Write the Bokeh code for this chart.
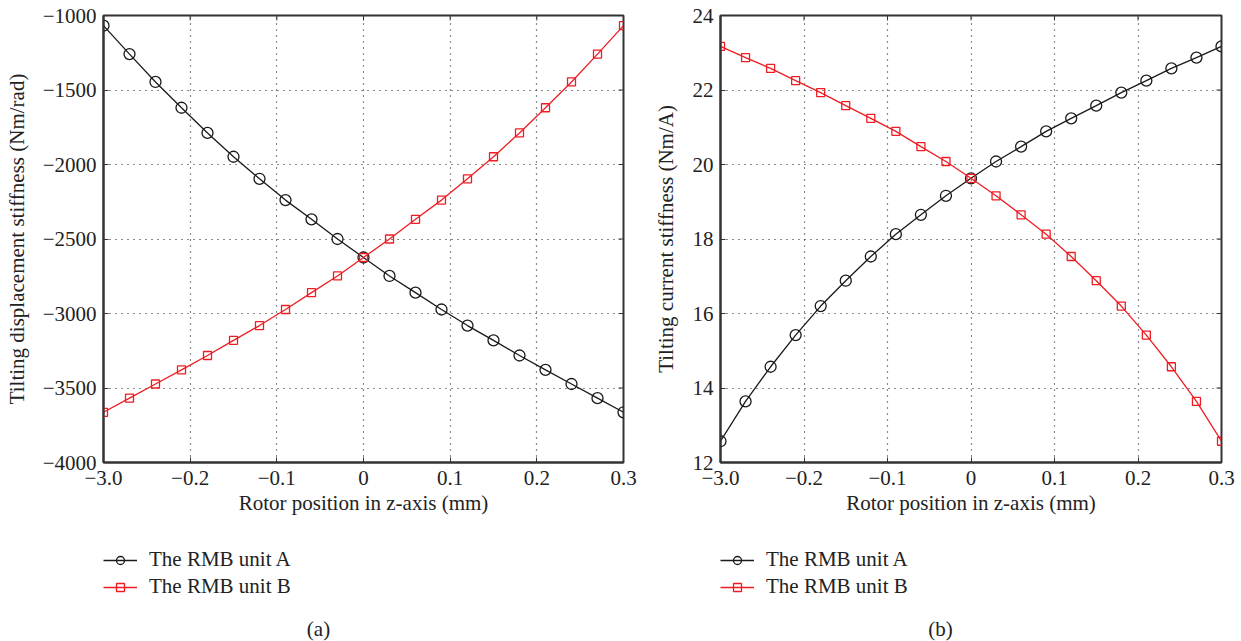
import math
from bokeh.plotting import figure
from bokeh.models import Legend, LegendItem, Label, FixedTicker, Range1d
from bokeh.layouts import row, column
from bokeh.embed import file_html
from bokeh.resources import INLINE

# ---- data ----
z = [-0.30, -0.27, -0.24, -0.21, -0.18, -0.15, -0.12, -0.09, -0.06, -0.03, 0.0,
     0.03, 0.06, 0.09, 0.12, 0.15, 0.18, 0.21, 0.24, 0.27, 0.30]

kd_A = [-1068, -1259, -1446, -1619, -1788, -1948, -2096, -2239, -2368, -2500, -2624,
        -2748, -2860, -2973, -3081, -3180, -3282, -3378, -3473, -3568, -3663]
kd_B = [-3663, -3568, -3473, -3378, -3282, -3180, -3081, -2973, -2860, -2748, -2624,
        -2500, -2368, -2239, -2096, -1948, -1788, -1619, -1446, -1259, -1068]

ki_A = [12.57, 13.64, 14.57, 15.42, 16.20, 16.88, 17.53, 18.13, 18.65, 19.16, 19.63,
        20.08, 20.48, 20.89, 21.24, 21.58, 21.93, 22.25, 22.58, 22.87, 23.17]
ki_B = [23.17, 22.87, 22.58, 22.25, 21.93, 21.58, 21.24, 20.89, 20.48, 20.08, 19.63,
        19.16, 18.65, 18.13, 17.53, 16.88, 16.20, 15.42, 14.57, 13.64, 12.57]

x_ticks = [-0.3, -0.2, -0.1, 0.0, 0.1, 0.2, 0.3]
x_tick_labels = ["\u22123.0", "\u22120.2", "\u22120.1", "0", "0.1", "0.2", "0.3"]

kd_ticks = [-4000, -3500, -3000, -2500, -2000, -1500, -1000]
ki_ticks = [12, 14, 16, 18, 20, 22, 24]

series_names = ["The RMB unit A", "The RMB unit B"]
x_label = "Rotor position in z-axis (mm)"

FONT = "Liberation Serif"
RED = "#ee1d23"
BLACK = "#1a1a1a"
AXIS = "#333333"
TXT = "#222222"
FS = "21px"
TOP_H = 524
BOT_H = 641 - TOP_H


def fmt_y(v):
    return str(int(v)).replace("-", "\u2212")


def style_a(p, xs, ys):
    la = p.line(xs, ys, line_color=BLACK, line_width=1.3)
    sa = p.scatter(xs, ys, marker="circle", size=11, line_color=BLACK,
                   fill_color=None, line_width=1.3)
    return la, sa


def style_b(p, xs, ys):
    lb = p.line(xs, ys, line_color=RED, line_width=1.3)
    sb = p.scatter(xs, ys, marker="square", size=8, line_color=RED,
                   fill_color=None, line_width=1.3)
    return lb, sb


def make_panel(ya, yb, yticks, ylabel, frame_w, bl, br, lab_standoff):
    y0, y1 = yticks[0], yticks[-1]
    p = figure(frame_width=frame_w, frame_height=447,
               min_border_left=bl, min_border_right=br, min_border_top=15,
               min_border_bottom=TOP_H - 15 - 447,
               x_range=Range1d(-0.3, 0.3), y_range=Range1d(y0, y1),
               output_backend="svg", toolbar_location=None)
    p.outline_line_color = AXIS
    p.outline_line_width = 2
    p.background_fill_color = "white"
    p.border_fill_color = "white"

    p.xaxis.ticker = FixedTicker(ticks=x_ticks)
    p.xaxis.major_label_overrides = {t: l for t, l in zip(x_ticks, x_tick_labels)}
    p.yaxis.ticker = FixedTicker(ticks=yticks)
    p.yaxis.major_label_overrides = {t: fmt_y(t) for t in yticks}
    p.xaxis.axis_label = x_label
    p.yaxis.axis_label = ylabel
    for ax in (p.xaxis[0], p.yaxis[0]):
        ax.axis_line_color = AXIS
        ax.axis_line_width = 2
        ax.major_tick_in = 5
        ax.major_tick_out = 0
        ax.major_tick_line_color = AXIS
        ax.minor_tick_line_color = None
        ax.major_label_text_font = FONT
        ax.major_label_text_font_size = FS
        ax.major_label_text_color = TXT
        ax.axis_label_text_font = FONT
        ax.axis_label_text_font_size = FS
        ax.axis_label_text_font_style = "normal"
        ax.axis_label_text_color = TXT
    p.xaxis.major_label_standoff = 8
    p.xaxis.axis_label_standoff = 3
    p.yaxis.major_label_standoff = 7
    p.yaxis.axis_label_standoff = lab_standoff

    for g in (p.xgrid[0], p.ygrid[0]):
        g.grid_line_color = "black"
        g.grid_line_dash = "1 5"
        g.grid_line_width = 1.2
        g.grid_line_alpha = 0.9
    p.xgrid.ticker = FixedTicker(ticks=x_ticks)
    p.ygrid.ticker = FixedTicker(ticks=yticks)

    # inward tick marks on the top and right sides of the box
    p.scatter(x_ticks, [y1] * len(x_ticks), marker="dash", size=10, angle=math.pi / 2,
              line_color=AXIS, line_width=1)
    p.scatter([0.3] * len(yticks), yticks, marker="dash", size=10,
              line_color=AXIS, line_width=1)

    style_a(p, z, ya)
    style_b(p, z, yb)
    return p


def make_legend_fig(width, ya, yb, leg_x, cap_x, caption):
    # legend strip below a panel; the series are re-drawn here only so that the
    # legend has real renderers; the view range keeps them out of sight
    f = figure(width=width, height=BOT_H, x_range=Range1d(10, 11), y_range=Range1d(1e6, 1e6 + 1),
               x_axis_type=None, y_axis_type=None, min_border=0,
               output_backend="svg", toolbar_location=None)
    f.outline_line_color = None
    f.xgrid.visible = False
    f.ygrid.visible = False
    f.background_fill_color = "white"
    f.border_fill_color = "white"
    la, sa = style_a(f, z, ya)
    lb, sb = style_b(f, z, yb)
    legend = Legend(items=[LegendItem(label=series_names[0], renderers=[la, sa]),
                           LegendItem(label=series_names[1], renderers=[lb, sb])],
                    location=(leg_x, 42), orientation="vertical",
                    border_line_color=None, background_fill_alpha=0,
                    label_text_font=FONT, label_text_font_size=FS,
                    label_text_color=TXT,
                    glyph_width=34, glyph_height=20, label_height=20,
                    label_standoff=12, spacing=2, padding=0, margin=0)
    f.add_layout(legend, "center")
    cap = Label(x=cap_x, y=BOT_H - 104, x_units="screen", y_units="screen", text=caption,
                text_font=FONT, text_font_size=FS, text_color=TXT,
                text_align="center", text_baseline="middle")
    f.add_layout(cap)
    return f


p1 = make_panel(kd_A, kd_B, kd_ticks, "Tilting displacement stiffness (Nm/rad)",
                520, 103, 17, 11)
p2 = make_panel(ki_A, ki_B, ki_ticks, "Tilting current stiffness (Nm/A)",
                501, 80, 20, 12)
l1 = make_legend_fig(640, kd_A, kd_B, 103, 318, "(a)")
l2 = make_legend_fig(601, ki_A, ki_B, 80, 300, "(b)")

layout = column(row(p1, p2), row(l1, l2))
open("out.html", "w").write(file_html(layout, INLINE))
